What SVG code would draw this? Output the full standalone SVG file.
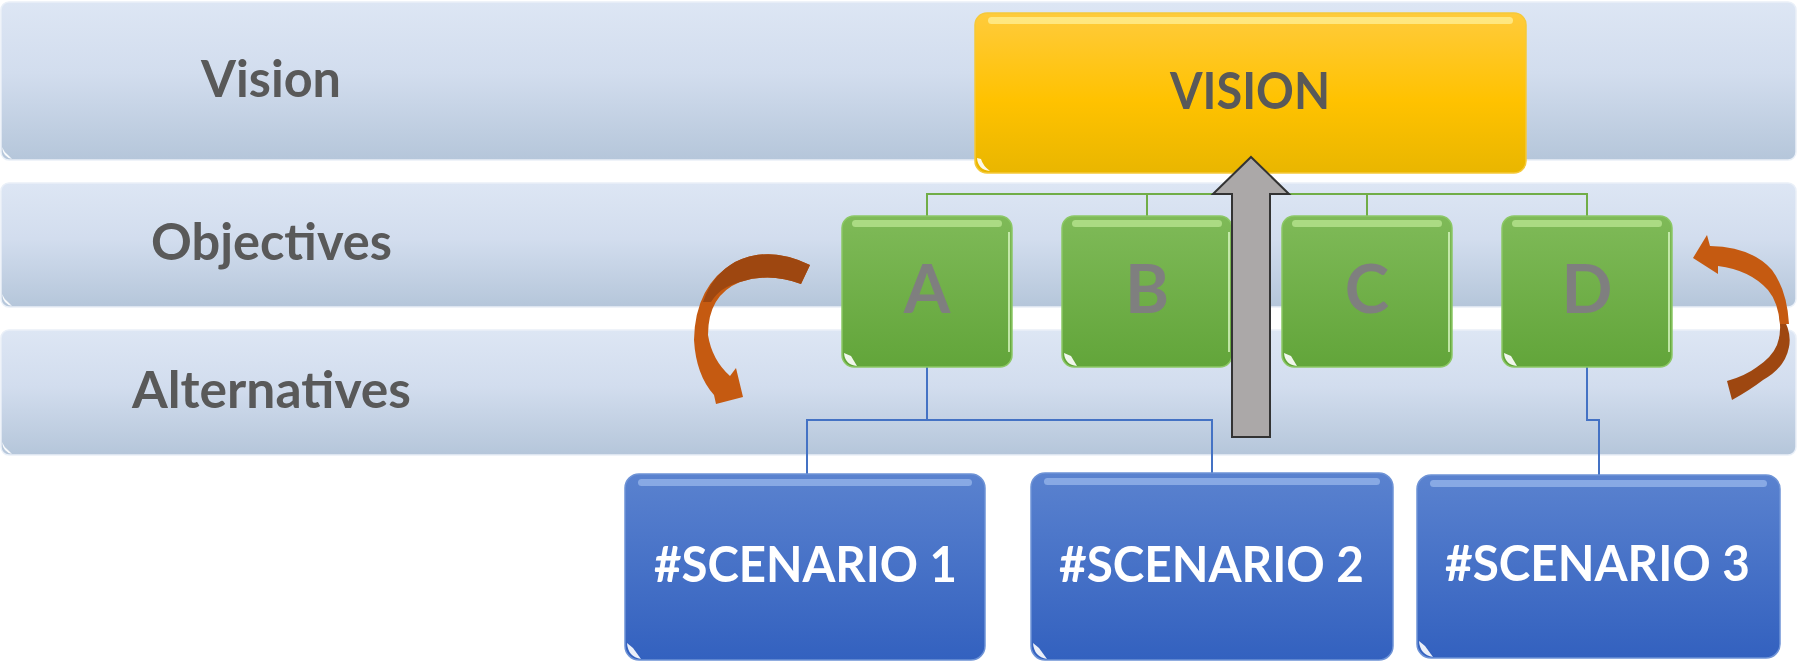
<svg xmlns="http://www.w3.org/2000/svg" width="1798" height="662" viewBox="0 0 1798 662">
<style>
.band{fill:url(#gBand);stroke:#EAF0F8;stroke-width:1.5}
.lbl{font-family:Lato,"Liberation Sans",sans-serif;font-weight:bold;font-size:51px;fill:#595959;text-anchor:middle}
.obj{fill:url(#gGreen);stroke:#8CC866;stroke-width:1.5}
.scn{fill:url(#gBlue);stroke:#6E93D6;stroke-width:1.5}
.letter{font-family:Lato,"Liberation Sans",sans-serif;font-weight:bold;font-size:67px;fill:#7F7F7F;text-anchor:middle}
.stext{font-family:Lato,"Liberation Sans",sans-serif;font-weight:bold;font-size:50px;fill:#FFFFFF;text-anchor:middle}
.hlG{fill:#B6E38E;opacity:0.8}
.hlB{fill:#9DBBEE;opacity:0.7}
.hlY{fill:#FFF3A0;opacity:0.7}
.edgeG{fill:none;stroke:#D6F5BE;stroke-width:2;opacity:0.8}
.gl{fill:none;stroke:#70AD47;stroke-width:2}
.bl{fill:none;stroke:#4472C4;stroke-width:2}
.corner{fill:#FFFFFF;opacity:0.9}
</style>
<defs>
<linearGradient id="gBand" x1="0" y1="0" x2="0" y2="1">
<stop offset="0" stop-color="#DDE6F4"/>
<stop offset="0.45" stop-color="#D2DDEE"/>
<stop offset="1" stop-color="#B5C6DA"/>
</linearGradient>
<linearGradient id="gYellow" x1="0" y1="0" x2="0" y2="1">
<stop offset="0" stop-color="#FFCB3C"/>
<stop offset="0.55" stop-color="#FFC200"/>
<stop offset="1" stop-color="#E9B600"/>
</linearGradient>
<linearGradient id="gGreen" x1="0" y1="0" x2="0" y2="1">
<stop offset="0" stop-color="#7FBA58"/>
<stop offset="1" stop-color="#62A53A"/>
</linearGradient>
<linearGradient id="gBlue" x1="0" y1="0" x2="0" y2="1">
<stop offset="0" stop-color="#5A82CF"/>
<stop offset="1" stop-color="#3361BF"/>
</linearGradient>
</defs>

<g id="bands">
<rect class="band" x="1" y="2" width="1795" height="158" rx="8"/>
<path class="corner" d="M2,147 Q3,157 12,159 L8,155 Q4,152 2,147 Z"/>
<rect class="band" x="1" y="183" width="1795" height="124" rx="8"/>
<path class="corner" d="M2,294 Q3,304 12,306 L8,302 Q4,299 2,294 Z"/>
<rect class="band" x="1" y="330" width="1795" height="125" rx="8"/>
<path class="corner" d="M2,442 Q3,452 12,454 L8,450 Q4,447 2,442 Z"/>
<text class="lbl" x="271" y="97" textLength="140" lengthAdjust="spacingAndGlyphs">Vision</text>
<text class="lbl" x="271.5" y="260" textLength="241" lengthAdjust="spacingAndGlyphs">Objectives</text>
<text class="lbl" x="271.5" y="408" textLength="279" lengthAdjust="spacingAndGlyphs">Alternatives</text>
</g>

<g id="connectors">
<path class="gl" d="M927,216 V194 H1587 V216 M1147,194 V216 M1367,194 V216"/>
<path class="bl" d="M927,367 V420 M807,474 V420 H1212 V474"/>
<path class="bl" d="M1587,367 V420 H1599 V475"/>
</g>

<g id="vision">
<rect x="975" y="13" width="551" height="160" rx="12" fill="url(#gYellow)" stroke="#F5C93A" stroke-width="1.5"/>
<rect class="hlY" x="988" y="17" width="525" height="7" rx="3.5"/>
<path class="corner" d="M977,158 Q978,170 990,171 Q983,166 981,159 Z"/>
<text class="lbl" x="1250" y="109" textLength="160" lengthAdjust="spacingAndGlyphs">VISION</text>
</g>

<g id="objA">
<rect class="obj" x="842" y="216" width="170" height="151" rx="12"/>
<rect class="hlG" x="852" y="220" width="150" height="7" rx="3.5"/>
<path class="edgeG" d="M1009,232 V352"/>
<path class="corner" d="M844,353 Q845,365 857,366 L851,356 Z"/>
<text class="letter" x="927" y="313">A</text>
</g>
<g id="objB">
<rect class="obj" x="1062" y="216" width="170" height="151" rx="12"/>
<rect class="hlG" x="1072" y="220" width="150" height="7" rx="3.5"/>
<path class="edgeG" d="M1229,232 V352"/>
<path class="corner" d="M1064,353 Q1065,365 1077,366 L1071,356 Z"/>
<text class="letter" x="1147" y="313">B</text>
</g>
<g id="objC">
<rect class="obj" x="1282" y="216" width="170" height="151" rx="12"/>
<rect class="hlG" x="1292" y="220" width="150" height="7" rx="3.5"/>
<path class="edgeG" d="M1449,232 V352"/>
<path class="corner" d="M1284,353 Q1285,365 1297,366 L1291,356 Z"/>
<text class="letter" x="1367" y="313">C</text>
</g>
<g id="objD">
<rect class="obj" x="1502" y="216" width="170" height="151" rx="12"/>
<rect class="hlG" x="1512" y="220" width="150" height="7" rx="3.5"/>
<path class="edgeG" d="M1669,232 V352"/>
<path class="corner" d="M1504,353 Q1505,365 1517,366 L1511,356 Z"/>
<text class="letter" x="1587" y="313">D</text>
</g>

<g id="upArrow">
<path d="M1251,157 L1289,194 L1270,194 L1270,437 L1232,437 L1232,194 L1213,194 Z" fill="#ABA8A8" stroke="#333333" stroke-width="2" stroke-linejoin="miter"/>
</g>

<g id="scenario1">
<rect class="scn" x="625" y="474" width="360" height="186" rx="14"/>
<rect class="hlB" x="638" y="479" width="334" height="7" rx="3.5"/>
<path class="corner" d="M627,643 Q628,657 641,659 L633,648 Z"/>
<text class="stext" x="805.5" y="582" textLength="303" lengthAdjust="spacingAndGlyphs">#SCENARIO 1</text>
</g>
<g id="scenario2">
<rect class="scn" x="1031" y="473" width="362" height="187" rx="14"/>
<rect class="hlB" x="1044" y="478" width="336" height="7" rx="3.5"/>
<path class="corner" d="M1033,643 Q1034,657 1047,659 L1039,648 Z"/>
<text class="stext" x="1211.5" y="582" textLength="305" lengthAdjust="spacingAndGlyphs">#SCENARIO 2</text>
</g>
<g id="scenario3">
<rect class="scn" x="1417" y="475" width="363" height="183" rx="14"/>
<rect class="hlB" x="1430" y="480" width="337" height="7" rx="3.5"/>
<path class="corner" d="M1419,641 Q1420,655 1433,657 L1425,646 Z"/>
<text class="stext" x="1597.5" y="581" textLength="305" lengthAdjust="spacingAndGlyphs">#SCENARIO 3</text>
</g>

<g id="leftCurvedArrow">
<path d="M810,265 Q770,245 735,262 Q695,285 694,340 Q696,375 714,395 L716,404 L743,397 L736,368 L730,376 Q712,360 708,335 Q708,295 740,282 Q770,272 801,284 Z" fill="#C55A11"/>
<path d="M810,265 Q770,245 735,262 Q712,275 703,302 L711,302 Q720,287 740,282 Q770,272 801,284 Z" fill="#9E4710"/>
</g>

<g id="rightCurvedArrow">
<path d="M1782,316 Q1792,332 1789,347 Q1785,368 1763,380 Q1750,390 1732,400 L1727,381 Q1745,376 1757,367 Q1772,357 1777,345 Q1782,332 1779,316 Z" fill="#9E4710"/>
<path d="M1693,258 L1707,235 L1710,246 Q1752,247 1772,270 Q1787,290 1789,324 L1780,324 Q1778,302 1768,290 Q1750,270 1718,266 L1718,274 Z" fill="#C55A11"/>
</g>
</svg>
